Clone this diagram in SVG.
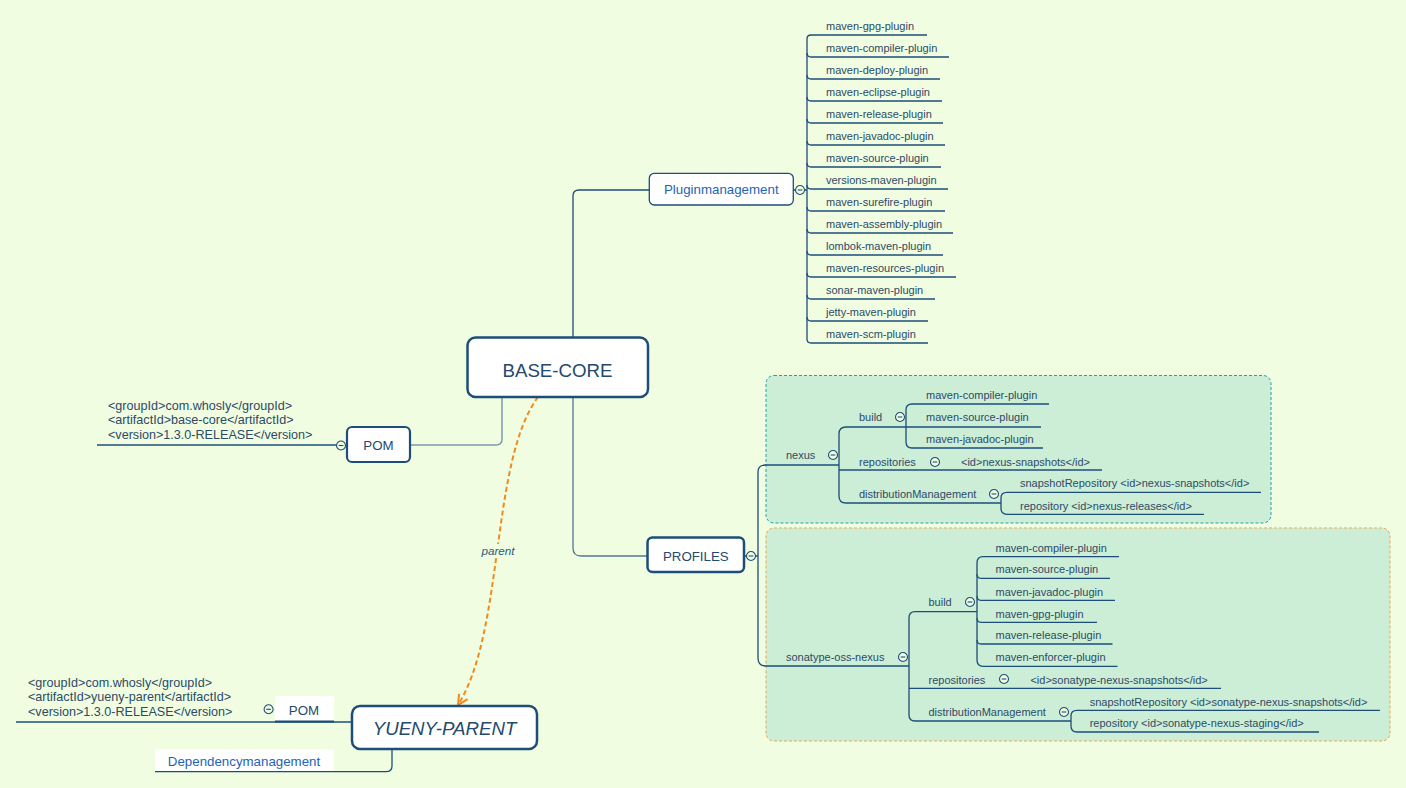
<svg xmlns="http://www.w3.org/2000/svg" width="1406" height="788" viewBox="0 0 1406 788">
<defs>
<style>
.t{font-family:"Liberation Sans",Arial,sans-serif;font-size:11px;fill:#2c4a68}
.pom{font-family:"Liberation Sans",Arial,sans-serif;font-size:12.6px;fill:#2c4a68}
.blue{font-family:"Liberation Sans",Arial,sans-serif;font-size:13.3px;fill:#1f63b8}
.mid{font-family:"Liberation Sans",Arial,sans-serif;font-size:13.3px;fill:#24496c}
.big{font-family:"Liberation Sans",Arial,sans-serif;font-size:18.7px;fill:#24496c}
.ln{fill:none;stroke:#1d4e79;stroke-width:1.3}
.box{fill:#ffffff;stroke:#1d4e79}
.col{fill:#f1fde0;stroke:#1d4e79;stroke-width:1.1}
.minus{stroke:#1d4e79;stroke-width:1.1}
</style>
<marker id="arr" viewBox="0 0 12 12" refX="11" refY="6" markerWidth="12" markerHeight="12" markerUnits="userSpaceOnUse" orient="auto">
<path d="M1 1 L11 6 L1 11" fill="none" stroke="#f08a1c" stroke-width="2"/>
</marker>
<g id="cc"><circle r="4.5" class="col"/><line x1="-2.3" y1="0" x2="2.3" y2="0" class="minus"/></g>
</defs>
<rect width="1406" height="788" fill="#f1fde0"/>

<g id="area-nexus"><rect x="766" y="375.5" width="505" height="147.5" rx="8" fill="#cdeed6" stroke="#1e9fb5" stroke-width="1" stroke-dasharray="3,2"/></g>
<g id="area-sonatype"><rect x="766" y="528" width="624" height="213" rx="8" fill="#cdeed6" stroke="#f0a450" stroke-width="1" stroke-dasharray="3,2"/></g>

<g id="connectors">
<path d="M573 337 V196 Q573 190 579 190 H649" class="ln" stroke="#2d5a80"/>
<path d="M573 397 V548 Q573 556 581 556 H647" fill="none" stroke="#4d7898" stroke-width="1.3"/>
<path d="M502 397 V439 Q502 445 496 445 H410" fill="none" stroke="#7b9bb0" stroke-width="1.5"/>
<path d="M336.5 445 H97" class="ln"/>
<path d="M793 190 H795.5 M804.5 190 H807" class="ln"/>
<path d="M807 39 V339" class="ln"/>
<path d="M807 39 Q807 35 811 35 H927" class="ln"/>
<path d="M807 53 Q807 57 811 57 H949" class="ln"/>
<path d="M807 75 Q807 79 811 79 H940" class="ln"/>
<path d="M807 97 Q807 101 811 101 H942" class="ln"/>
<path d="M807 119 Q807 123 811 123 H943" class="ln"/>
<path d="M807 141 Q807 145 811 145 H945" class="ln"/>
<path d="M807 163 Q807 167 811 167 H941" class="ln"/>
<path d="M807 185 Q807 189 811 189 H948" class="ln"/>
<path d="M807 207 Q807 211 811 211 H945" class="ln"/>
<path d="M807 229 Q807 233 811 233 H953" class="ln"/>
<path d="M807 251 Q807 255 811 255 H943" class="ln"/>
<path d="M807 273 Q807 277 811 277 H956" class="ln"/>
<path d="M807 295 Q807 299 811 299 H935" class="ln"/>
<path d="M807 317 Q807 321 811 321 H928" class="ln"/>
<path d="M807 339 Q807 343 811 343 H928" class="ln"/>

<path d="M744 556 H746.5 M755.5 556 H758" class="ln"/>
<path d="M839 465 H765 Q758 465 758 472 V658 Q758 666 766 666 H909" class="ln"/>
<path d="M906 427 H846 Q839 427 839 434 V496 Q839 503 846 503 H1001" class="ln"/>
<path d="M906 427 H1041" class="ln"/>
<path d="M1049 404 H912 Q906 404 906 410 V442 Q906 448 912 448 H1043" class="ln"/>
<path d="M839 470 H1102" class="ln"/>
<path d="M1261 492.3 H1007 Q1001 492.3 1001 498 V508.5 Q1001 514.3 1007 514.3 H1204" class="ln"/>

<path d="M977 611.7 H915 Q909 611.7 909 618 V715 Q909 721 915 721 H1071" class="ln"/>
<path d="M909 688.3 H1221" class="ln"/>
<path d="M1119 556.7 H983 Q977 556.7 977 563 V660 Q977 666.3 983 666.3 H1117.5" class="ln"/>
<path d="M977 574.3 Q977 578.3 981 578.3 H1110" class="ln"/>
<path d="M977 596.3 Q977 600.3 981 600.3 H1115" class="ln"/>
<path d="M977 618.3 Q977 622.3 981 622.3 H1097" class="ln"/>
<path d="M977 640 Q977 644 981 644 H1112.5" class="ln"/>
<path d="M1380 710.3 H1077 Q1071 710.3 1071 716 V726 Q1071 732 1077 732 H1319" class="ln"/>

<path d="M16 722 H352" class="ln"/>
<path d="M155 771.7 H386 Q392 771.7 392 766 V749" class="ln"/>

<path d="M538 397 C490 462, 505 630, 458 705" fill="none" stroke="#f08a1c" stroke-width="2" stroke-dasharray="5,3" marker-end="url(#arr)"/>
<rect x="481" y="544" width="35" height="14" fill="#f1fde0"/>
<text x="498" y="555" text-anchor="middle" font-family="Liberation Sans, Arial, sans-serif" font-size="11.7" font-style="italic" fill="#2b5a85">parent</text>
</g>

<g id="node-base-core"><rect x="467.5" y="337.5" width="180.5" height="59.5" rx="8" class="box" stroke-width="2.5"/><text x="557.5" y="376.5" text-anchor="middle" class="big">BASE-CORE</text></g>

<g id="node-pluginmanagement"><rect x="649.3" y="173.3" width="144" height="31.7" rx="5" class="box" stroke-width="1.3"/><text x="721.3" y="193.8" text-anchor="middle" class="blue">Pluginmanagement</text><use href="#cc" x="800" y="190"/></g>

<g id="plugins">
<text x="826" y="30" class="t">maven-gpg-plugin</text>
<text x="826" y="52" class="t">maven-compiler-plugin</text>
<text x="826" y="74" class="t">maven-deploy-plugin</text>
<text x="826" y="96" class="t">maven-eclipse-plugin</text>
<text x="826" y="118" class="t">maven-release-plugin</text>
<text x="826" y="140" class="t">maven-javadoc-plugin</text>
<text x="826" y="162" class="t">maven-source-plugin</text>
<text x="826" y="184" class="t">versions-maven-plugin</text>
<text x="826" y="206" class="t">maven-surefire-plugin</text>
<text x="826" y="228" class="t">maven-assembly-plugin</text>
<text x="826" y="250" class="t">lombok-maven-plugin</text>
<text x="826" y="272" class="t">maven-resources-plugin</text>
<text x="826" y="294" class="t">sonar-maven-plugin</text>
<text x="826" y="316" class="t">jetty-maven-plugin</text>
<text x="826" y="338" class="t">maven-scm-plugin</text>
</g>

<g id="node-pom-top"><rect x="347" y="427" width="63" height="35" rx="5" class="box" stroke-width="2.2"/><text x="378.5" y="449.7" text-anchor="middle" class="mid">POM</text><use href="#cc" x="341" y="445.5"/></g>
<g id="pom-top-text">
<text x="108" y="409.5" class="pom">&lt;groupId&gt;com.whosly&lt;/groupId&gt;</text>
<text x="108" y="424" class="pom">&lt;artifactId&gt;base-core&lt;/artifactId&gt;</text>
<text x="108" y="438.8" class="pom">&lt;version&gt;1.3.0-RELEASE&lt;/version&gt;</text>
</g>

<g id="node-profiles"><rect x="647.5" y="537.5" width="96.5" height="34.5" rx="5" class="box" stroke-width="2.5"/><text x="695.8" y="560.6" text-anchor="middle" class="mid">PROFILES</text><use href="#cc" x="751" y="556"/></g>

<g id="node-nexus">
<text x="786" y="459" class="t">nexus</text><use href="#cc" x="833" y="455"/>
<text x="859" y="421.3" class="t">build</text><use href="#cc" x="900" y="417"/>
<text x="926" y="399" class="t">maven-compiler-plugin</text>
<text x="926" y="421.3" class="t">maven-source-plugin</text>
<text x="926" y="443.3" class="t">maven-javadoc-plugin</text>
<text x="859" y="465.7" class="t">repositories</text><use href="#cc" x="935" y="462"/>
<text x="961" y="465.7" class="t">&lt;id&gt;nexus-snapshots&lt;/id&gt;</text>
<text x="859" y="498" class="t">distributionManagement</text><use href="#cc" x="994" y="494"/>
<text x="1020" y="487.3" class="t">snapshotRepository &lt;id&gt;nexus-snapshots&lt;/id&gt;</text>
<text x="1020" y="509.7" class="t">repository &lt;id&gt;nexus-releases&lt;/id&gt;</text>
</g>

<g id="node-sonatype">
<text x="786" y="661.3" class="t">sonatype-oss-nexus</text><use href="#cc" x="903" y="657"/>
<text x="928.5" y="606.3" class="t">build</text><use href="#cc" x="970" y="602"/>
<text x="995.5" y="551.7" class="t">maven-compiler-plugin</text>
<text x="995.5" y="573.3" class="t">maven-source-plugin</text>
<text x="995.5" y="595.7" class="t">maven-javadoc-plugin</text>
<text x="995.5" y="617.7" class="t">maven-gpg-plugin</text>
<text x="995.5" y="639.3" class="t">maven-release-plugin</text>
<text x="995.5" y="661.3" class="t">maven-enforcer-plugin</text>
<text x="928.5" y="683.7" class="t">repositories</text><use href="#cc" x="1004" y="679"/>
<text x="1030.4" y="683.7" class="t">&lt;id&gt;sonatype-nexus-snapshots&lt;/id&gt;</text>
<text x="928.5" y="716.3" class="t">distributionManagement</text><use href="#cc" x="1064" y="712"/>
<text x="1089.7" y="705.7" class="t">snapshotRepository &lt;id&gt;sonatype-nexus-snapshots&lt;/id&gt;</text>
<text x="1089.7" y="727.3" class="t">repository &lt;id&gt;sonatype-nexus-staging&lt;/id&gt;</text>
</g>

<g id="node-yueny-parent"><rect x="352" y="706" width="185" height="43" rx="8" class="box" stroke-width="2.5"/><text x="444.5" y="734.6" text-anchor="middle" class="big" font-style="italic">YUENY-PARENT</text></g>

<g id="node-pom-bottom"><rect x="275" y="696" width="59" height="25.5" fill="#ffffff"/><path d="M275 721.5 H334" stroke="#1d4e79" stroke-width="2.2"/><text x="304" y="714.7" text-anchor="middle" class="mid">POM</text><use href="#cc" x="268.6" y="709.3"/></g>
<g id="pom-bottom-text">
<text x="28" y="686.8" class="pom">&lt;groupId&gt;com.whosly&lt;/groupId&gt;</text>
<text x="28" y="701.2" class="pom">&lt;artifactId&gt;yueny-parent&lt;/artifactId&gt;</text>
<text x="28" y="715.5" class="pom">&lt;version&gt;1.3.0-RELEASE&lt;/version&gt;</text>
</g>

<g id="node-dependencymanagement"><rect x="155" y="749.5" width="179" height="21.5" fill="#ffffff"/><text x="244" y="765.5" text-anchor="middle" class="blue">Dependencymanagement</text></g>
</svg>
